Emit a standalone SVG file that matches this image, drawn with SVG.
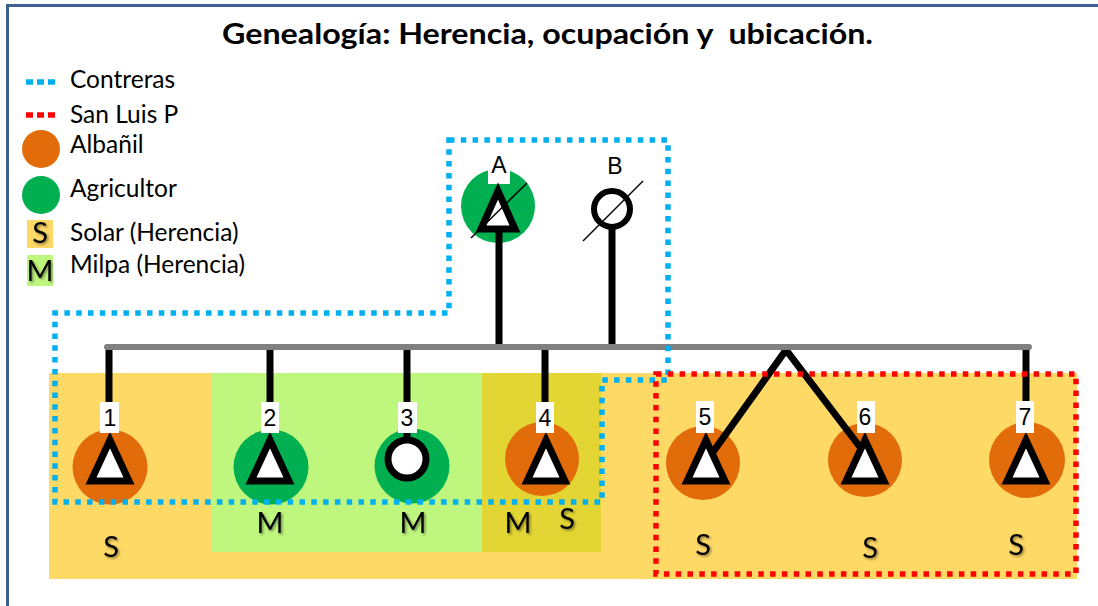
<svg xmlns="http://www.w3.org/2000/svg" width="1098" height="606" viewBox="0 0 1098 606">
<style>
.t{font-family:Lato,"Liberation Sans",sans-serif;fill:#000}
.leg{font-size:24.5px}
.lab{font-family:"Liberation Sans",Arial,sans-serif;font-size:23px;text-anchor:middle;fill:#000}
.band{font-family:Lato,"Liberation Sans",sans-serif;font-size:29px;text-anchor:middle;fill:#000;filter:url(#sh)}
.orange{fill:#E36C0A}
.green{fill:#00B050}
.tri{fill:#fff;stroke:#000;stroke-width:7;stroke-linejoin:miter}
.ln{stroke:#000;stroke-width:7;fill:none}
.box{fill:#fff}
.blue{fill:none;stroke:#00B0F0;stroke-width:5.5;stroke-dasharray:5.5 6.3}
.red{fill:none;stroke:#FF0000;stroke-width:5.5;stroke-dasharray:5.5 6.3}
</style>
<defs>
<filter id="sh" x="-30%" y="-30%" width="160%" height="160%">
<feDropShadow dx="1.5" dy="1.5" stdDeviation="1" flood-color="#000" flood-opacity="0.45"/>
</filter>
<polygon id="triC" points="0,-26 -19,15 19,15"/>
</defs>
<rect x="0" y="0" width="1098" height="606" fill="#fff"/>
<rect x="7.5" y="5.5" width="1200" height="700" fill="none" stroke="#3D6091" stroke-width="3"/>

<text class="t" x="222" y="44" font-size="28" font-weight="bold" textLength="651" lengthAdjust="spacingAndGlyphs" style="white-space:pre">Genealogía: Herencia, ocupación y  ubicación.</text>

<g id="legend">
<line x1="26" y1="82" x2="56" y2="82" stroke="#00B0F0" stroke-width="5.5" stroke-dasharray="7 4"/>
<text class="t leg" x="70" y="88">Contreras</text>
<line x1="26" y1="115" x2="56" y2="115" stroke="#FF0000" stroke-width="5.5" stroke-dasharray="7 4"/>
<text class="t leg" x="70" y="123">San Luis P</text>
<circle cx="41" cy="149" r="19" class="orange"/>
<text class="t leg" x="70" y="153">Albañil</text>
<circle cx="41" cy="195" r="19" class="green"/>
<text class="t leg" x="70" y="197">Agricultor</text>
<rect x="27" y="220" width="26" height="28" fill="#FFD966"/>
<text class="band" x="40" y="243" font-size="25">S</text>
<text class="t leg" x="70" y="241">Solar (Herencia)</text>
<rect x="27" y="255" width="26" height="31" fill="#BEF67E"/>
<text class="band" x="40" y="281" font-size="25">M</text>
<text class="t leg" x="70" y="273">Milpa (Herencia)</text>
</g>

<g id="bands">
<rect x="49" y="373" width="1028" height="206" fill="#FFD966"/>
<rect x="212" y="373" width="271" height="179" fill="#BEF67E"/>
<rect x="482" y="373" width="119" height="179" fill="#E2D534"/>
<text class="band" x="111" y="557">S</text>
<text class="band" x="270" y="533">M</text>
<text class="band" x="413" y="533">M</text>
<text class="band" x="518" y="533">M</text>
<text class="band" x="567" y="529">S</text>
<text class="band" x="703" y="555">S</text>
<text class="band" x="870" y="558">S</text>
<text class="band" x="1016" y="555">S</text>
</g>

<g id="node-A">
<circle cx="498" cy="206" r="37" class="green"/>
<rect x="488" y="150" width="22" height="34" class="box"/>
<text class="lab" x="499" y="173">A</text>
<polygon points="498,191 481,229 515,229" class="tri" stroke-width="6"/>
<line x1="471" y1="238" x2="527" y2="183" stroke="#000" stroke-width="1.5"/>
</g>
<g id="node-B">
<text class="lab" x="615" y="174">B</text>
<circle cx="612" cy="209" r="18" fill="#fff" stroke="#000" stroke-width="6"/>
<line x1="583" y1="241" x2="643" y2="181" stroke="#000" stroke-width="1.5"/>
</g>

<g id="node-1">
<circle cx="110" cy="467" r="37.5" class="orange"/>
<use href="#triC" x="110" y="466" class="tri"/>
<rect x="100" y="402" width="19" height="31" class="box"/>
<text class="lab" x="110" y="426">1</text>
</g>
<g id="node-2">
<circle cx="271" cy="467" r="37.5" class="green"/>
<use href="#triC" x="270" y="466" class="tri"/>
<rect x="261" y="402" width="18" height="31" class="box"/>
<text class="lab" x="270" y="426">2</text>
</g>
<g id="node-3">
<circle cx="412" cy="466" r="37.5" class="green"/>
<line x1="407" y1="433" x2="407" y2="441" class="ln"/>
<circle cx="407" cy="459" r="19" fill="#fff" stroke="#000" stroke-width="7"/>
<rect x="398" y="402" width="19" height="31" class="box"/>
<text class="lab" x="407" y="426">3</text>
</g>
<g id="node-4">
<circle cx="542" cy="459" r="37" class="orange"/>
<use href="#triC" x="546" y="466" class="tri"/>
<rect x="536" y="402" width="18" height="31" class="box"/>
<text class="lab" x="545" y="426">4</text>
</g>
<g id="node-5">
<circle cx="703" cy="463" r="37" class="orange"/>
<use href="#triC" x="706" y="466" class="tri"/>
<rect x="696" y="401" width="18" height="32" class="box"/>
<text class="lab" x="705" y="425">5</text>
</g>
<g id="node-6">
<circle cx="865" cy="460" r="37" class="orange"/>
<use href="#triC" x="865" y="466" class="tri"/>
<rect x="857" y="401" width="18" height="32" class="box"/>
<text class="lab" x="865" y="425">6</text>
</g>
<g id="node-7">
<circle cx="1027" cy="460" r="38" class="orange"/>
<use href="#triC" x="1026" y="466" class="tri"/>
<rect x="1016" y="401" width="18" height="32" class="box"/>
<text class="lab" x="1025" y="425">7</text>
</g>

<g id="connectors">
<line x1="499" y1="230" x2="499" y2="347" class="ln"/>
<line x1="612" y1="227" x2="612" y2="347" class="ln"/>
<line x1="109" y1="347" x2="109" y2="402" class="ln"/>
<line x1="270" y1="347" x2="270" y2="402" class="ln"/>
<line x1="407" y1="347" x2="407" y2="402" class="ln"/>
<line x1="545" y1="347" x2="545" y2="402" class="ln"/>
<line x1="1026" y1="347" x2="1026" y2="401" class="ln"/>
<polyline points="713,452 786,350 860,447" class="ln" stroke-linejoin="miter"/>
<line x1="107" y1="347" x2="1029" y2="347" stroke="#808080" stroke-width="6" stroke-linecap="round"/>
</g>

<g id="regions">
<path d="M449,140 H668 V380 H602 V502 H55 V313 H449 Z" class="blue"/>
<rect x="656" y="374" width="420" height="200" class="red"/>
</g>
</svg>
